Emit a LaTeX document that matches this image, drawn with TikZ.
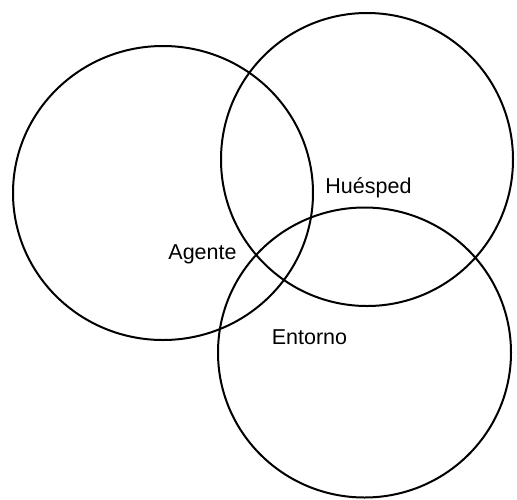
\documentclass[tikz,border=0pt]{standalone}
\usepackage{fontspec}
\setmainfont{Liberation Sans}
\begin{document}
\begin{tikzpicture}[x=1pt,y=-1pt,
  ring/.style={draw=black,line width=2pt},
  lbl/.style={font=\fontsize{21.5}{24}\selectfont,inner sep=0pt}]
\useasboundingbox (0,0) rectangle (517,499);
% the three overlapping sets
\draw[ring] (163,193) ellipse [x radius=150,y radius=147];
\draw[ring] (367,159.5) ellipse [x radius=146,y radius=146.5];
\draw[ring] (364.5,352.5) ellipse [x radius=146.5,y radius=145];
% labels
\node[lbl] (huesped) at (368.5,188) {Huésped};
\node[lbl] (agente) at (202.5,254) {Agente};
\node[lbl] (entorno) at (309.5,337) {Entorno};
\end{tikzpicture}
\end{document}
